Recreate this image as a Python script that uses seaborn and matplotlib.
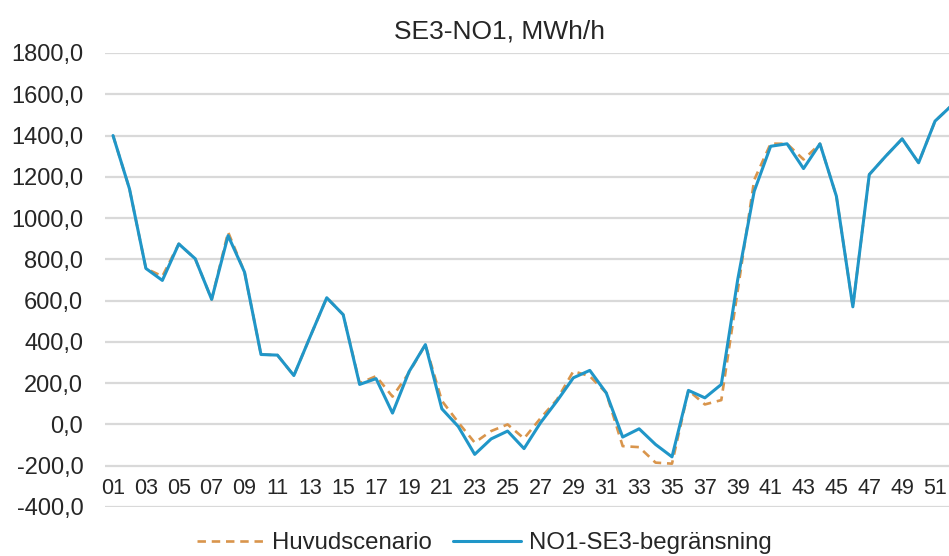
import matplotlib
matplotlib.use("Agg")
import matplotlib.pyplot as plt
import matplotlib.ticker as mticker
from matplotlib import font_manager
import numpy as np
import pandas as pd
import seaborn as sns

# Weekly flow SE3 -> NO1, MWh/h, weeks 1..52
weeks = list(range(1, 53))

huvudscenario = [
    1400, 1142, 756, 718, 875, 803, 606, 932, 738, 339,
    336, 237, 427, 614, 532, 200, 234, 135, 250, 387,
    115, 10, -88, -32, 0, -68, 30, 120, 258, 234,
    153, -105, -110, -185, -190, 165, 97, 118, 650, 1185,
    1361, 1360, 1284, 1360, 1106, 570, 1211, 1300, 1384, 1268,
    1470, 1545,
]

begransning = [
    1400, 1142, 756, 698, 875, 803, 606, 915, 738, 339,
    336, 237, 427, 614, 532, 194, 222, 55, 255, 387,
    76, -10, -145, -70, -32, -117, 8, 113, 226, 262,
    153, -61, -21, -97, -157, 165, 129, 194, 703, 1130,
    1348, 1360, 1240, 1360, 1106, 570, 1211, 1300, 1384, 1268,
    1470, 1545,
]

series_names = ["Huvudscenario", "NO1-SE3-begränsning"]
series_colors = ["#D9954C", "#2096C8"]

y_ticks = list(range(-400, 1801, 200))
x_ticks = list(range(1, 52, 2))
x_tick_labels = [f"{w:02d}" for w in x_ticks]

sns.set_theme(style="white")
plt.rcParams["font.family"] = ["Liberation Sans", "DejaVu Sans"]


def narrow_family():
    for fam in ["Liberation Sans Narrow", "Arial Narrow"]:
        try:
            font_manager.findfont(font_manager.FontProperties(family=fam),
                                  fallback_to_default=False)
            return fam
        except Exception:
            continue
    return None


narrow = narrow_family()

df = pd.DataFrame({
    "Vecka": weeks * 2,
    "MWh/h": huvudscenario + begransning,
    "Serie": [series_names[0]] * len(weeks) + [series_names[1]] * len(weeks),
})

fig = plt.figure(figsize=(9.49, 5.56), dpi=100)
ax = fig.add_axes([104.8 / 949, 49 / 556, 854.9 / 949, 454 / 556])

sns.lineplot(
    data=df, x="Vecka", y="MWh/h", hue="Serie", style="Serie",
    hue_order=series_names, style_order=series_names,
    palette=dict(zip(series_names, series_colors)),
    dashes={series_names[0]: (3.2, 2.2), series_names[1]: ""},
    linewidth=2.2, ax=ax, legend=True,
)
lines = ax.get_lines()
if len(lines) >= 2:
    lines[0].set_linewidth(1.9)
    lines[0].set_zorder(2)
    lines[1].set_zorder(3)

ax.set_xlim(0.5, 52.5)
ax.set_ylim(-400, 1800)
ax.set_yticks(y_ticks)
ax.yaxis.set_major_formatter(mticker.FuncFormatter(lambda v, p: f"{v:.1f}".replace(".", ",")))
ax.set_xticks(x_ticks)
ax.set_xticklabels(x_tick_labels)

ax.grid(axis="y", color="#D9D9D9", linewidth=1.6)
ax.grid(axis="x", visible=False)
ax.set_axisbelow(True)
for s in ax.spines.values():
    s.set_visible(False)
ax.spines["bottom"].set_position(("data", -200))

ax.tick_params(axis="y", length=0, pad=15.5, labelsize=17, labelcolor="#262626")
if narrow:
    ax.tick_params(axis="x", length=0, pad=9.0, labelsize=17.5, labelcolor="#262626")
    for t in ax.get_xticklabels():
        t.set_family([narrow, "Liberation Sans", "DejaVu Sans"])
else:
    ax.tick_params(axis="x", length=0, pad=9.0, labelsize=15.5, labelcolor="#262626")
ax.set_xlabel("")
ax.set_ylabel("")

handles, labels = ax.get_legend_handles_labels()
ax.get_legend().remove()
for h in handles:
    h.set_linewidth(1.9 if h.get_label() == series_names[0] else 2.2)
fig.legend(
    handles, labels, loc="center", bbox_to_anchor=(484 / 949, 1 - 543 / 556),
    ncol=2, frameon=False, fontsize=17.3, handlelength=2.8,
    handletextpad=0.33, columnspacing=0.9, labelcolor="#262626",
)

fig.text(500 / 949, 1 - 38 / 556, "SE3-NO1, MWh/h", ha="center", va="baseline",
         fontsize=19, color="#262626")

fig.savefig("out.png", dpi=100)
